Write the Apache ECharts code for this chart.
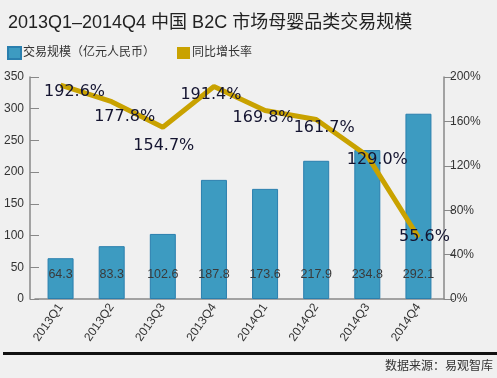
<!DOCTYPE html>
<html><head><meta charset="utf-8">
<script src="https://cdn.jsdelivr.net/npm/echarts@6/dist/echarts.min.js"></script>
<style>html,body{margin:0;padding:0;background:#f0f0f0;}#c{width:497px;height:378px;}</style>
</head><body><div id="c"></div>
<script>
const categories = ['2013Q1','2013Q2','2013Q3','2013Q4','2014Q1','2014Q2','2014Q3','2014Q4'];
const tradeScale = [64.3, 83.3, 102.6, 187.8, 173.6, 217.9, 234.8, 292.1];
const growthRate = [192.6, 177.8, 154.7, 191.4, 169.8, 161.7, 129.0, 55.6];
const leftTicks = [0, 50, 100, 150, 200, 250, 300, 350];
const rightTicks = [0, 40, 80, 120, 160, 200];

const labelOffsets = [[14,7],[13,15],[1,19],[-3,8],[-2,7],[8,8],[10,4],[6,0]];
const font = "'Liberation Sans','Noto Sans CJK SC',sans-serif";

const chart = echarts.init(document.getElementById('c'), null, {renderer:'canvas'});
chart.setOption({
  backgroundColor: '#f0f0f0',
  animation: false,
  title: {
    text: '2013Q1–2014Q4 中国 B2C 市场母婴品类交易规模',
    left: 3, top: 9,
    textStyle: {fontFamily: font, fontSize: 18, fontWeight: 'normal', color: '#222'}
  },
  legend: {
    left: 2, top: 41, itemWidth: 13, itemHeight: 12, itemGap: 22,
    icon: 'rect',
    textStyle: {fontFamily: font, fontSize: 12, color: '#333', padding: [0,0,0,-3]},
    data: ['交易规模（亿元人民币）', '同比增长率']
  },
  grid: {left: 35, right: 53, top: 77, bottom: 79},
  xAxis: {
    type: 'category', data: categories,
    axisLine: {lineStyle: {color: '#888', width: 1.5}},
    axisTick: {show: false},
    axisLabel: {rotate: 55, fontFamily: font, fontSize: 12, color: '#333', margin: 6}
  },
  yAxis: [{
    type: 'value', min: leftTicks[0], max: leftTicks[leftTicks.length-1], interval: 50,
    offset: 5,
    axisLine: {show: true, lineStyle: {color: '#888', width: 1.5}},
    axisTick: {show: true, inside: true, length: 9, lineStyle: {color: '#888'}},
    axisLabel: {fontFamily: font, fontSize: 12, color: '#333', margin: 6},
    splitLine: {show: false}
  }, {
    type: 'value', min: rightTicks[0], max: rightTicks[rightTicks.length-1], interval: 40,
    position: 'right',
    axisLine: {show: true, lineStyle: {color: '#888', width: 1.5}},
    axisTick: {show: true, length: 10, lineStyle: {color: '#888'}},
    axisLabel: {fontFamily: font, fontSize: 12, color: '#333', margin: 6, formatter: '{value}%'},
    splitLine: {show: false}
  }],
  series: [{
    name: '交易规模（亿元人民币）', type: 'bar', data: tradeScale,
    barWidth: 26,
    itemStyle: {color: '#3d9bc1', borderColor: '#2a7fae', borderWidth: 1},
    label: {show: true, position: 'insideBottom', distance: 18, fontFamily: font, fontSize: 12.5, color: '#3a3a3a',
      formatter: p => p.value.toFixed(1)}
  }, {
    name: '同比增长率', type: 'line', yAxisIndex: 1,
    data: growthRate.map((v, i) => ({value: v, label: {offset: labelOffsets[i]}})),
    symbol: 'circle', symbolSize: 1,
    lineStyle: {color: '#c9a200', width: 5},
    itemStyle: {color: '#c9a200'},
    label: {show: true, position: 'inside', fontFamily: "'DejaVu Sans',sans-serif", fontSize: 16, color: '#141430',
      formatter: p => p.value.toFixed(1) + '%'},
    z: 5
  }],
  graphic: [
    {type: 'rect', left: 3, top: 352, shape: {width: 494, height: 3}, style: {fill: '#111'}},
    {type: 'text', right: 4, top: 359, style: {text: '数据来源：易观智库', font: "12px 'Noto Sans CJK SC'", fill: '#333'}}
  ]
});
</script></body></html>
